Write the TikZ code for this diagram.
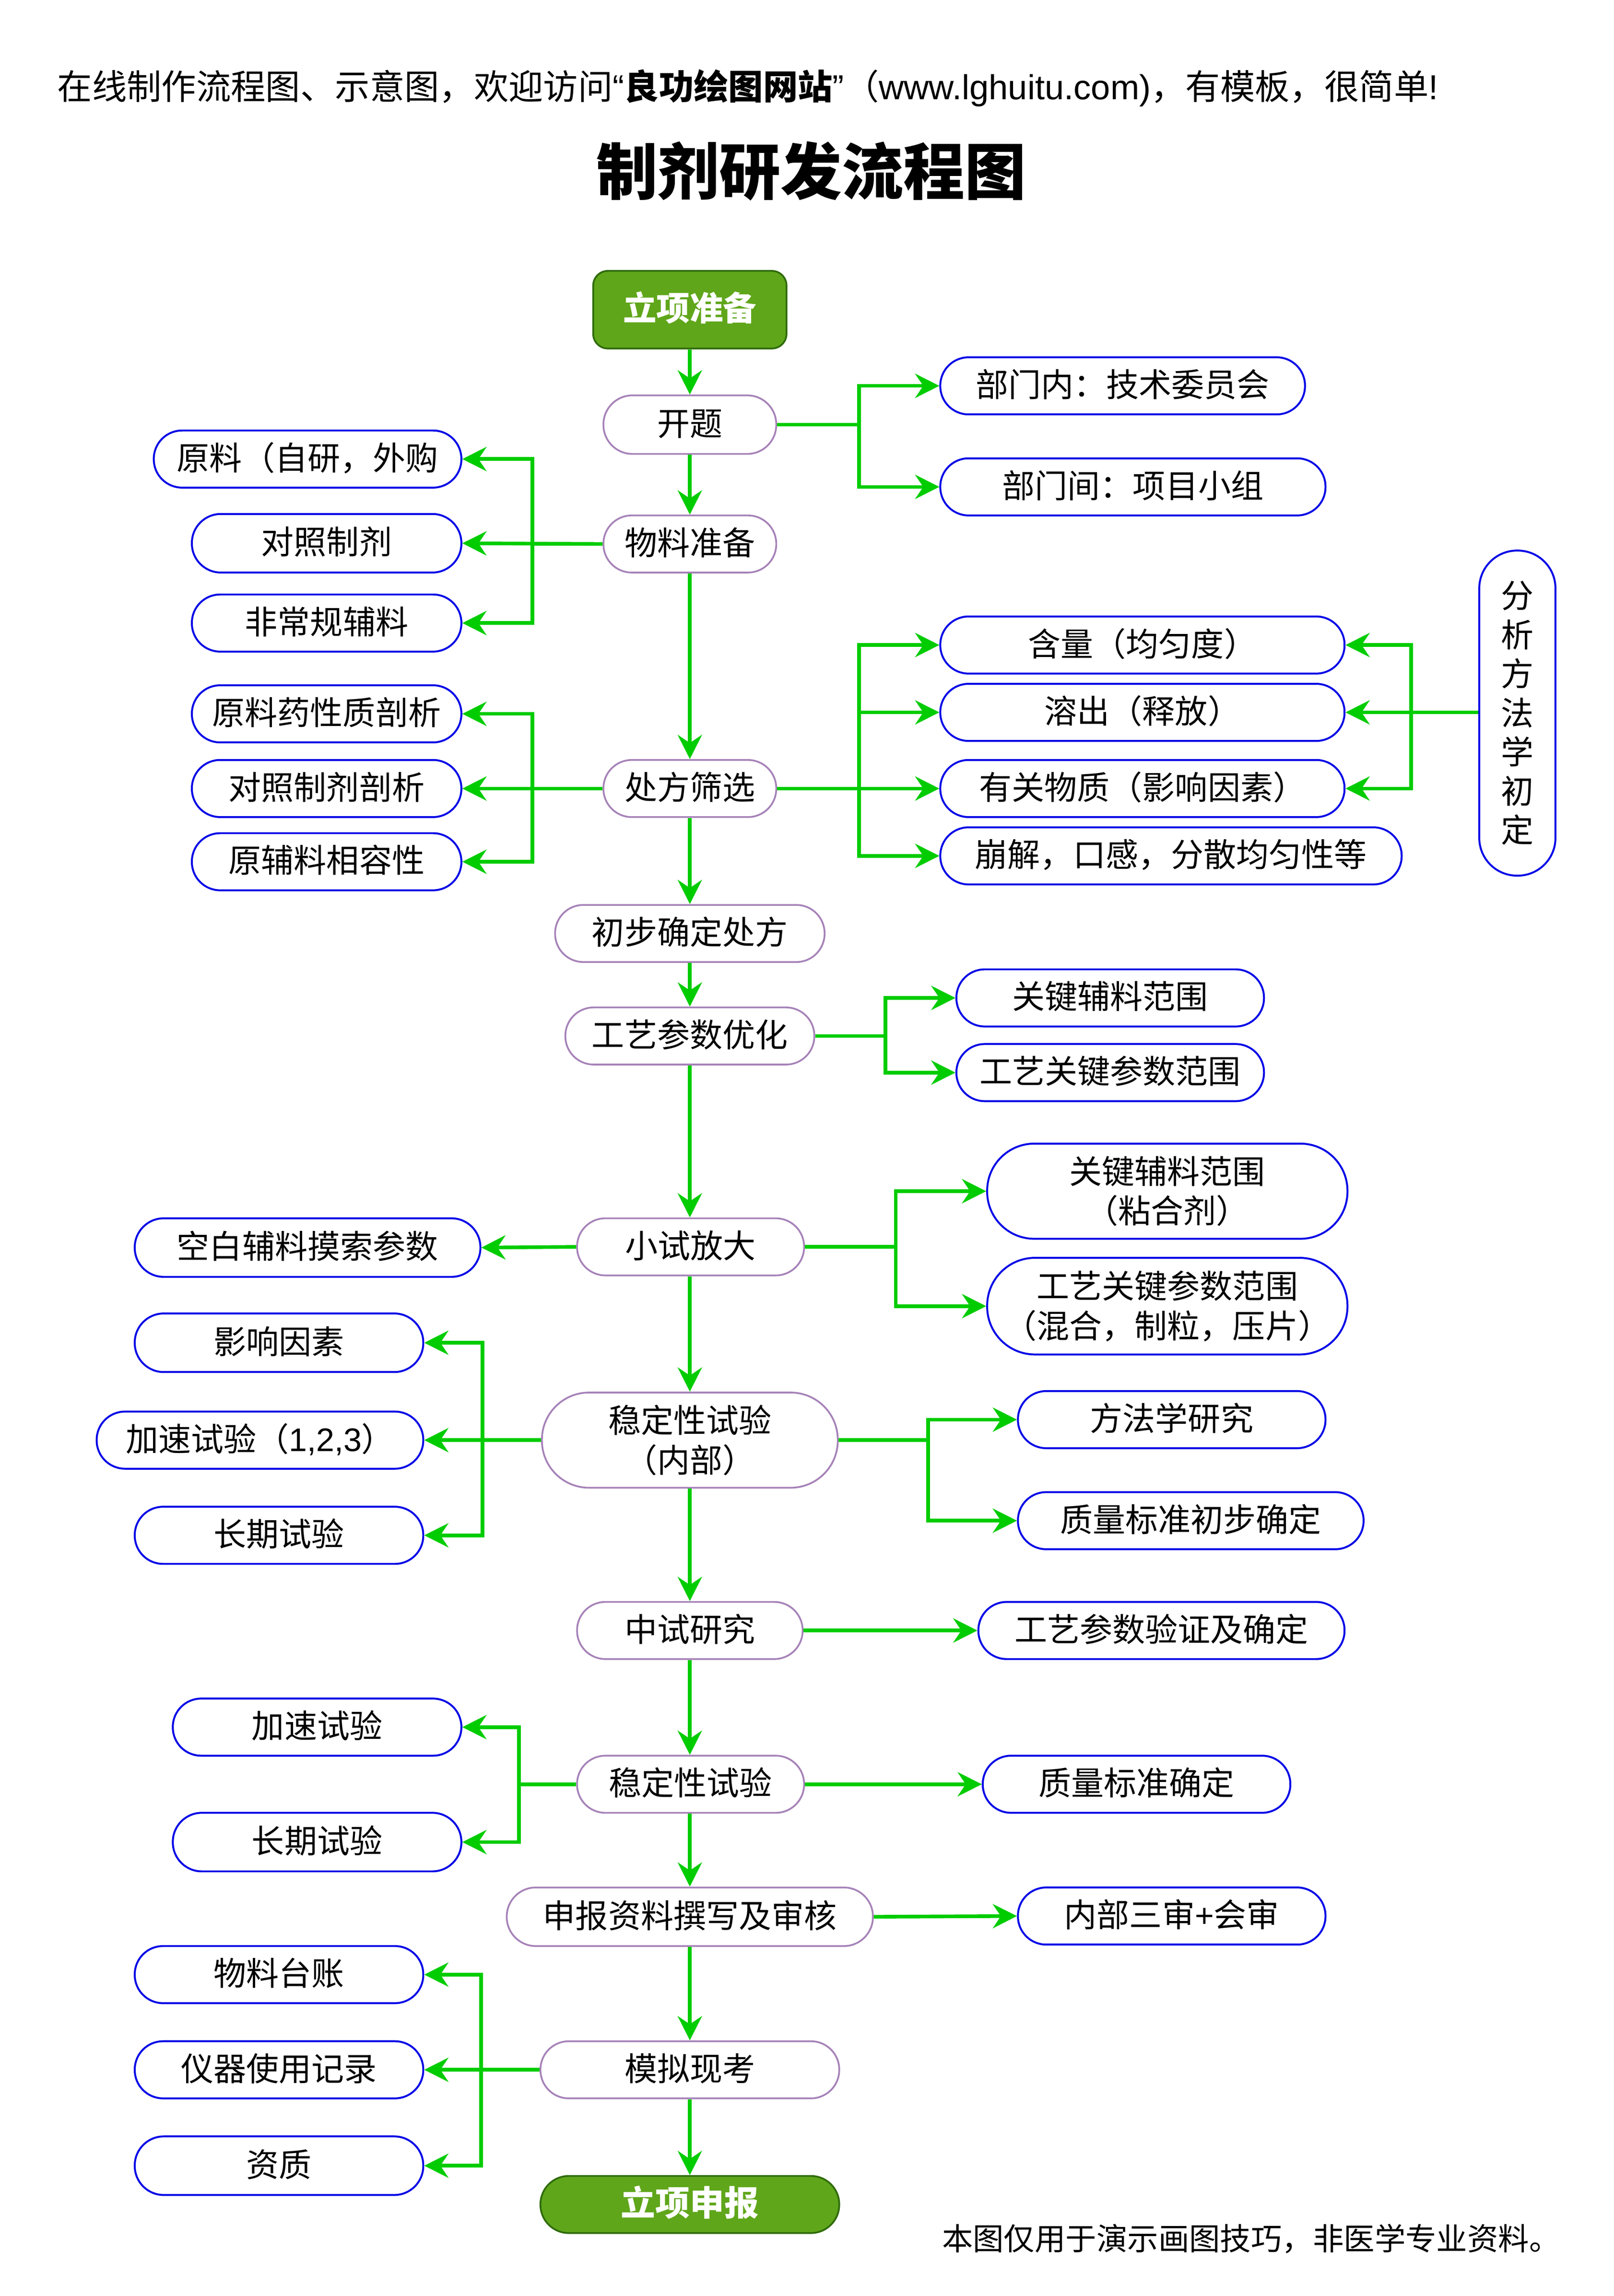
\documentclass[tikz,border=0pt]{standalone}
\usepackage{fontspec}
\setmainfont{Noto Sans CJK SC}
\newfontfamily\lat{Liberation Sans}
\usetikzlibrary{arrows.meta}
\definecolor{flowgreen}{HTML}{00CC00}
\definecolor{pillblue}{HTML}{0000E6}
\definecolor{pillpurple}{HTML}{A682B8}
\definecolor{startfill}{HTML}{5FA61A}
\definecolor{startline}{HTML}{2F6B0B}
\tikzset{
  x=1pt,y=-1pt,
  base/.style={inner sep=0pt,align=center,font=\fontsize{22.3}{27}\selectfont,text=black,text height=19pt,text depth=4pt},
  multi/.style={text height=,text depth=},
  bluepill/.style={base,draw=pillblue,line width=1.3pt,fill=white},
  purplepill/.style={base,draw=pillpurple,line width=1.2pt,fill=white},
  startbox/.style={base,draw=startline,line width=1.2pt,fill=startfill,text=white,font=\fontsize{23.5}{27}\selectfont\bfseries},
  arr/.style={draw=flowgreen,line width=2.5pt,-{Stealth[length=16.5pt,width=16.5pt,inset=5.5pt,fill=flowgreen]}},
}
% #1 style, #2 name, #3 x1, #4 x2, #5 y1, #6 y2, #7 text
\newcommand\flownode[7]{%
  \pgfmathsetmacro\cxx{(#3+#4)/2}%
  \pgfmathsetmacro\cyy{(#5+#6)/2}%
  \pgfmathsetmacro\ww{#4-#3}%
  \pgfmathsetmacro\hh{#6-#5}%
  \pgfmathsetmacro\rr{min(\ww,\hh)*0.495}%
  \node[#1,minimum width=\ww pt,minimum height=\hh pt,rounded corners=\rr pt] (#2) at (\cxx,\cyy) {#7};%
}
\begin{document}
\begin{tikzpicture}
\useasboundingbox (0,0) rectangle (1101.7,1568);
\node[anchor=west,inner sep=0pt,font=\fontsize{23.7}{27}\selectfont] (hdr) at (39,60) {在线制作流程图、示意图，欢迎访问{\lat “}{\bfseries 良功绘图网站}{\lat ”}（{\lat www.lghuitu.com)}，有模板，很简单{\lat !}};
\node[inner sep=0pt,font=\fontsize{41.9}{48}\selectfont\bfseries] (title) at (554,117) {制剂研发流程图};
\node[anchor=west,inner sep=0pt,font=\fontsize{21.1}{25}\selectfont] (foot) at (643,1529) {本图仅用于演示画图技巧，非医学专业资料。};

% main column
\node[startbox,font=\fontsize{22.8}{27}\selectfont\bfseries,minimum width=132pt,minimum height=53pt,rounded corners=10pt] (start) at (471,211.5) {立项准备};
\flownode{purplepill}{kt}{412}{530}{270}{310}{开题}
\flownode{purplepill}{wl}{412}{530}{352}{391}{物料准备}
\flownode{purplepill}{cf}{412}{530}{519}{558}{处方筛选}
\flownode{purplepill}{cb}{379}{563}{618}{657}{初步确定处方}
\flownode{purplepill}{gy}{386}{556}{688}{727}{工艺参数优化}
\flownode{purplepill}{xs}{394}{549}{832}{871}{小试放大}
\flownode{purplepill,multi}{wd}{370}{572}{951}{1016}{稳定性试验\\（内部）}
\flownode{purplepill}{zs}{394}{548}{1094}{1133}{中试研究}
\flownode{purplepill}{wx}{394}{549}{1199}{1238}{稳定性试验}
\flownode{purplepill}{sb}{346}{596}{1289}{1329}{申报资料撰写及审核}
\flownode{purplepill}{mn}{369}{573}{1394}{1433}{模拟现考}
\flownode{startbox}{end}{369}{573}{1486}{1525}{立项申报}

% side nodes
\flownode{bluepill}{b1}{105}{315}{294}{333}{原料（自研，外购}
\flownode{bluepill}{b2}{131}{315}{351}{391}{对照制剂}
\flownode{bluepill}{b3}{131}{315}{406}{445}{非常规辅料}
\flownode{bluepill}{b4}{131}{315}{468}{507}{原料药性质剖析}
\flownode{bluepill}{b5}{131}{315}{519}{558}{对照制剂剖析}
\flownode{bluepill}{b6}{131}{315}{569}{608}{原辅料相容性}
\flownode{bluepill}{r1}{642}{891}{244}{283}{部门内：技术委员会}
\flownode{bluepill}{r2}{642}{905}{313}{352}{部门间：项目小组}
\flownode{bluepill}{r3}{642}{918}{421}{460}{含量（均匀度）}
\flownode{bluepill}{r4}{642}{918}{467}{506}{溶出（释放）}
\flownode{bluepill}{r5}{642}{918}{519}{558}{有关物质（影响因素）}
\flownode{bluepill}{r6}{642}{957}{565}{604}{崩解，口感，分散均匀性等}
\flownode{bluepill,multi}{fx}{1010}{1062}{376}{598}{分\\[-0.3pt]析\\[-0.3pt]方\\[-0.3pt]法\\[-0.3pt]学\\[-0.3pt]初\\[-0.3pt]定}
\flownode{bluepill}{r7}{653}{863}{662}{701}{关键辅料范围}
\flownode{bluepill}{r8}{653}{863}{713}{752}{工艺关键参数范围}
\flownode{bluepill,multi}{r9}{674}{920}{781}{846}{关键辅料范围\\（粘合剂）}
\flownode{bluepill,multi}{r10}{674}{920}{859}{925}{工艺关键参数范围\\（混合，制粒，压片）}
\flownode{bluepill}{b7}{92}{328}{832}{872}{空白辅料摸索参数}
\flownode{bluepill}{b8}{92}{289}{897}{937}{影响因素}
\flownode{bluepill}{b9}{66}{289}{964}{1003}{加速试验（{\lat 1,2,3}）}
\flownode{bluepill}{b10}{92}{289}{1029}{1068}{长期试验}
\flownode{bluepill}{r11}{695}{905}{950}{989}{方法学研究}
\flownode{bluepill}{r12}{695}{931}{1019}{1058}{质量标准初步确定}
\flownode{bluepill}{r13}{668}{918}{1094}{1133}{工艺参数验证及确定}
\flownode{bluepill}{b11}{118}{315}{1160}{1199}{加速试验}
\flownode{bluepill}{b12}{118}{315}{1238}{1278}{长期试验}
\flownode{bluepill}{r14}{671}{881}{1199}{1238}{质量标准确定}
\flownode{bluepill}{r15}{695}{905}{1289}{1328}{内部三审{\lat +}会审}
\flownode{bluepill}{b13}{92}{289}{1329}{1368}{物料台账}
\flownode{bluepill}{b14}{92}{289}{1394}{1433}{仪器使用记录}
\flownode{bluepill}{b15}{92}{289}{1459}{1499}{资质}

% main flow
\foreach \p/\q in {start/kt,kt/wl,wl/cf,cf/cb,cb/gy,gy/xs,xs/wd,wd/zs,zs/wx,wx/sb,sb/mn,mn/end}
  \draw[arr] (\p.south -| start.south) -- (\q.north -| start.south);

% elbows to the right
\foreach \p/\q/\d in {kt/r1/56,kt/r2/56,cf/r3/56,cf/r6/56,gy/r7/48,gy/r8/48,xs/r9/62,xs/r10/62,wd/r11/61,wd/r12/61}
  \draw[arr] (\p.east) -- ++(\d,0) |- (\q.west);
\draw[arr] (cf.east) -- ++(56,0) |- (r4.west);
\draw[arr] (cf.east) -- (r5.west);
\draw[arr] (zs.east) -- (r13.west);
\draw[arr] (wx.east) -- (r14.west);
\draw[arr] (sb.east) -- (r15.west);

% elbows to the left
\foreach \p/\q/\d in {wl/b1/48,wl/b3/48,cf/b4/48,cf/b6/48,wd/b8/40,wd/b10/40,wx/b11/39,wx/b12/39,mn/b13/40,mn/b15/40}
  \draw[arr] (\p.west) -- ++(-\d,0) |- (\q.east);
\draw[arr] (wl.west) -- (b2.east);
\draw[arr] (cf.west) -- (b5.east);
\draw[arr] (xs.west) -- (b7.east);
\draw[arr] (wd.west) -- (b9.east);
\draw[arr] (mn.west) -- (b14.east);

% analysis method to its three targets
\draw[arr] (fx.west |- r4.east) -- (r4.east);
\draw[arr] (fx.west |- r4.east) -- ++(-46,0) |- (r3.east);
\draw[arr] (fx.west |- r4.east) -- ++(-46,0) |- (r5.east);
\end{tikzpicture}
\end{document}
